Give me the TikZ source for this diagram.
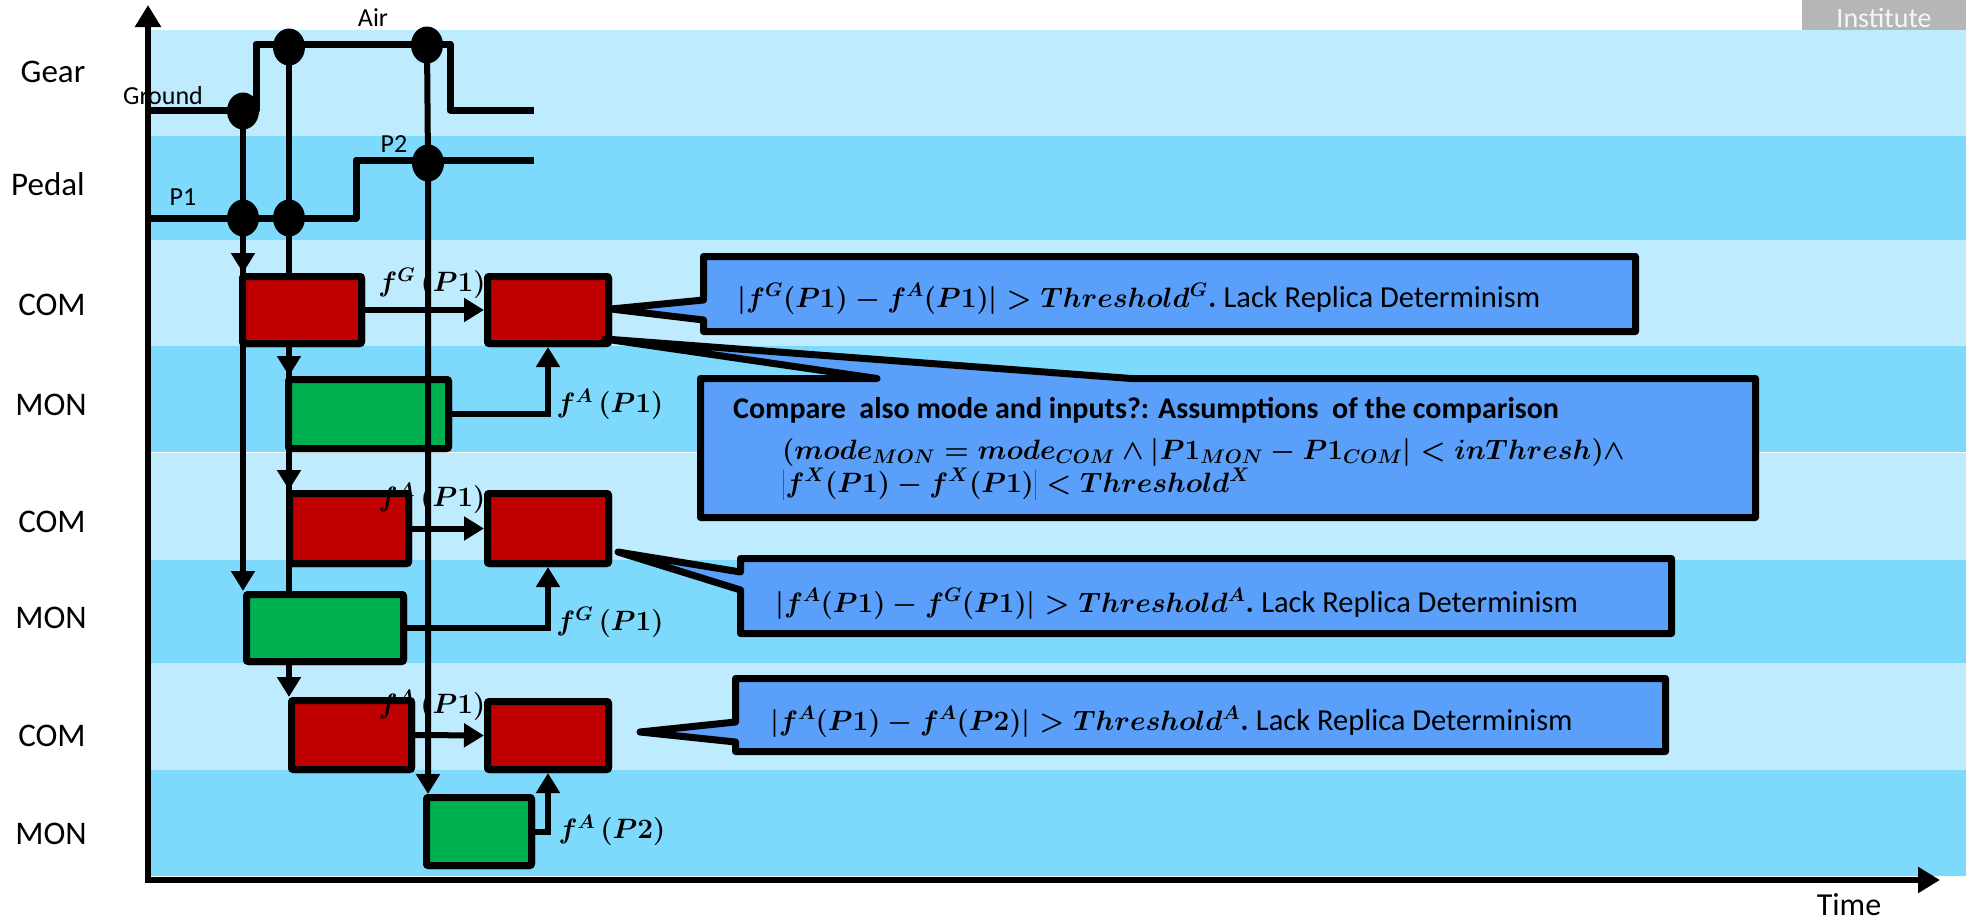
\documentclass[tikz,border=0pt]{standalone}
\usepackage{fix-cm}
\usepackage[no-math]{fontspec}
\setmainfont{Carlito}
\usetikzlibrary{arrows.meta,shapes.geometric}
\definecolor{bandL}{RGB}{190,235,254}
\definecolor{bandD}{RGB}{126,218,253}
\definecolor{boxred}{RGB}{192,0,0}
\definecolor{boxgreen}{RGB}{0,176,80}
\definecolor{callblue}{RGB}{90,160,250}
\definecolor{logogrey}{RGB}{180,182,184}
\newcommand{\mfont}{\fontsize{28}{32}\selectfont\boldmath}
\newcommand{\calloutA}{{\mfont$\vert f^{G}(P1) - f^{A}(P1)\vert > Threshold^{G}.$}\ Lack Replica Determinism}
\newcommand{\calloutBa}{\fontsize{30}{34}\selectfont\bfseries Compare\ \ also mode and inputs?: Assumptions\ \ of the comparison}
\newcommand{\calloutBb}{{\mfont$(mode\sb{MON} = mode\sb{COM} \wedge \left\vert P1\sb{MON} - P1\sb{COM}\right\vert < inThresh) \wedge$}}
\newcommand{\calloutBc}{{\mfont$\left\vert f^{X}(P1) - f^{X}(P1)\right\vert < Threshold^{X}$}}
\newcommand{\calloutC}{{\mfont$\vert f^{A}(P1) - f^{G}(P1)\vert > Threshold^{A}.$}\ Lack Replica Determinism}
\newcommand{\calloutD}{{\mfont$\vert f^{A}(P1) - f^{A}(P2)\vert > Threshold^{A}.$}\ Lack Replica Determinism}
\tikzset{
  rbox/.style={draw=black, fill=boxred, line width=7pt, rounded corners=2pt, inner sep=0pt},
  gbox/.style={draw=black, fill=boxgreen, line width=7pt, rounded corners=2pt, inner sep=0pt},
  sig/.style={draw=black, line width=7pt, line join=round},
  arr/.style={draw=black, line width=6pt, -{Triangle[length=20pt,width=23pt]}},
  axis/.style={draw=black, line width=6pt, -{Triangle[length=22pt,width=25pt]}},
  sdot/.style={ellipse, fill=black, minimum width=32pt, minimum height=37pt, inner sep=0pt},
  rowlab/.style={font=\fontsize{33}{36}\selectfont, inner sep=0pt},
  siglab/.style={font=\fontsize{26}{30}\selectfont, inner sep=0pt},
  mlab/.style={font=\mfont, inner sep=0pt},
  callout/.style={draw=black, fill=callblue, line width=7pt, line join=round},
  ctext/.style={font=\fontsize{30.5}{34}\selectfont, inner sep=0pt, anchor=base west},
}
\begin{document}
\begin{tikzpicture}[x=1pt,y=-1pt]
\useasboundingbox (0,0) rectangle (1966,921);
\fill[white] (0,0) rectangle (1966,921);
% logo fragment
\fill[logogrey] (1802,0) rectangle (1966,30);
\node[anchor=base, text=white!92!gray, font=\fontsize{28}{30}\selectfont, inner sep=0pt] (logo) at (1884,27) {Institute};
% bands
\fill[bandL] (149,30) rectangle (1966,136);
\fill[bandD] (149,136) rectangle (1966,240);
\fill[bandL] (149,240) rectangle (1966,346);
\fill[bandD] (149,346) rectangle (1966,452);
\fill[bandL] (149,453) rectangle (1966,560);
\fill[bandD] (149,560) rectangle (1966,663);
\fill[bandL] (149,663) rectangle (1966,770);
\fill[bandD] (149,770) rectangle (1966,876);
% axes
\coordinate (origin) at (148,880);
\coordinate (ytip) at (148,5);
\coordinate (xtip) at (1940,880);
\draw[axis] (origin) -- (ytip);
\draw[axis] ([xshift=-3pt]origin) -- (xtip);
\node[font=\fontsize{32}{36}\selectfont, inner sep=0pt] (time) at (1849,905) {Time};
% row labels
\node[rowlab] (lgear) at (53,72) {Gear};
\node[rowlab] (lpedal) at (48,184) {Pedal};
\node[rowlab] (lcom1) at (52,305) {COM};
\node[rowlab] (lmon1) at (51,405) {MON};
\node[rowlab] (lcom2) at (52,522) {COM};
\node[rowlab] (lmon2) at (51,618) {MON};
\node[rowlab] (lcom3) at (52,736) {COM};
\node[rowlab] (lmon3) at (51,834) {MON};
% signals
\draw[sig] (148,110) -- (256,110) -- (256,44) -- (450,44) -- (450,110) -- (534,110);
\draw[sig] (148,218) -- (356,218) -- (356,160) -- (534,160);
\node[siglab] (lground) at (163,96) {Ground};
\node[siglab] (lair) at (373,18) {Air};
\node[siglab] (lp1) at (183,197) {P1};
\node[siglab] (lp2) at (394,144) {P2};
% dots (positions)
\coordinate (gd) at (243,111);
\coordinate (ad1) at (289,47);
\coordinate (ad2) at (427,45);
\coordinate (pd1) at (243,218);
\coordinate (pd2) at (289,218);
\coordinate (pd3) at (428,163);
% boxes (declared for anchors, drawn later)
\path node[rbox, minimum width=119pt, minimum height=67pt] (c1a) at (302,310) {}
      node[rbox, minimum width=121pt, minimum height=67pt] (c1b) at (548,310) {}
      node[gbox, minimum width=160pt, minimum height=69pt] (m1) at (368.5,414) {}
      node[rbox, minimum width=119pt, minimum height=70pt] (c2a) at (349,528.5) {}
      node[rbox, minimum width=121pt, minimum height=70pt] (c2b) at (548,528.5) {}
      node[gbox, minimum width=157pt, minimum height=67pt] (m2) at (325,628) {}
      node[rbox, minimum width=120pt, minimum height=69pt] (c3a) at (351.5,735) {}
      node[rbox, minimum width=121pt, minimum height=68pt] (c3b) at (548,735.5) {}
      node[gbox, minimum width=105pt, minimum height=68pt] (m3) at (479,831.5) {};
% vertical arrows behind boxes
\draw[arr] (gd) -- (gd |- c1a.north);
\draw[arr] (gd) -- (gd |- m2.north);
\draw[arr] (ad1) -- (ad1 |- m1.north);
\draw[arr] (ad1) -- (ad1 |- c2a.north);
\draw[arr] (ad1) -- (ad1 |- c3a.north);
% redraw boxes on top
\node[rbox, minimum width=119pt, minimum height=67pt] at (c1a) {};
\node[rbox, minimum width=121pt, minimum height=67pt] at (c1b) {};
\node[gbox, minimum width=160pt, minimum height=69pt] at (m1) {};
\node[rbox, minimum width=119pt, minimum height=70pt] at (c2a) {};
\node[rbox, minimum width=121pt, minimum height=70pt] at (c2b) {};
\node[gbox, minimum width=157pt, minimum height=67pt] at (m2) {};
\node[rbox, minimum width=120pt, minimum height=69pt] at (c3a) {};
\node[rbox, minimum width=121pt, minimum height=68pt] at (c3b) {};
\node[gbox, minimum width=105pt, minimum height=68pt] at (m3) {};
% arrow in front of MON1
\draw[arr] (ad2) -- (pd3) -- (pd3 |- m3.north);
% horizontal and elbow arrows
\draw[arr] (c1a.east) -- (c1b.west);
\draw[arr] (c2a.east) -- (c2b.west);
\draw[arr] (c3a.east) -- (c3b.west);
\draw[arr] (m1.east) -| (c1b.south);
\draw[arr] (m2.east) -| (c2b.south);
\draw[arr] (m3.east) -| (c3b.south);
% labels
\node[mlab] (f1) at (432,283) {$f^{G}\,(P1)$};
\node[mlab] (f2) at (610,404) {$f^{A}\,(P1)$};
\node[mlab] (f3) at (432,498) {$f^{A}\,(P1)$};
\node[mlab] (f4) at (610,622) {$f^{G}\,(P1)$};
\node[mlab] (f5) at (432,705) {$f^{A}\,(P1)$};
\node[mlab] (f6) at (612,830) {$f^{A}\,(P2)$};
% dots
\node[sdot] (gdot) at (gd) {};
\node[sdot] (adot1) at (ad1) {};
\node[sdot] (adot2) at (ad2) {};
\node[sdot] (pdot1) at (pd1) {};
\node[sdot] (pdot2) at (pd2) {};
\node[sdot] (pdot3) at (pd3) {};
% callouts
\coordinate (tip1) at (611,309);
\coordinate (tip2) at (605,339);
\coordinate (tip3) at (618,552);
\coordinate (tip4) at (640,732);
\draw[callout] (703.5,256.5) -- (1635.5,256.5) -- (1635.5,331.5) -- (703.5,331.5) -- (703.5,320) -- (tip1) -- (703.5,300) -- cycle;
\draw[callout] (700.5,378.5) -- (877,378.5) -- (tip2) -- (1131,378.5) -- (1755.5,378.5) -- (1755.5,517.5) -- (700.5,517.5) -- cycle;
\draw[callout] (740.5,558.5) -- (1671.5,558.5) -- (1671.5,633.5) -- (740.5,633.5) -- (740.5,590) -- (tip3) -- (740.5,572) -- cycle;
\draw[callout] (735.5,678.5) -- (1665.5,678.5) -- (1665.5,751.5) -- (735.5,751.5) -- (735.5,742) -- (tip4) -- (735.5,722) -- cycle;
% callout texts
\node[ctext] (t1) at (737,307) {\calloutA};
\node[ctext] (t2a) at (733,418) {\calloutBa};
\node[ctext] (t2b) at (782,459) {\calloutBb};
\node[ctext] (t2c) at (782,492) {\calloutBc};
\node[ctext] (t3) at (775,612) {\calloutC};
\node[ctext] (t4) at (770,730) {\calloutD};
\end{tikzpicture}
\end{document}
